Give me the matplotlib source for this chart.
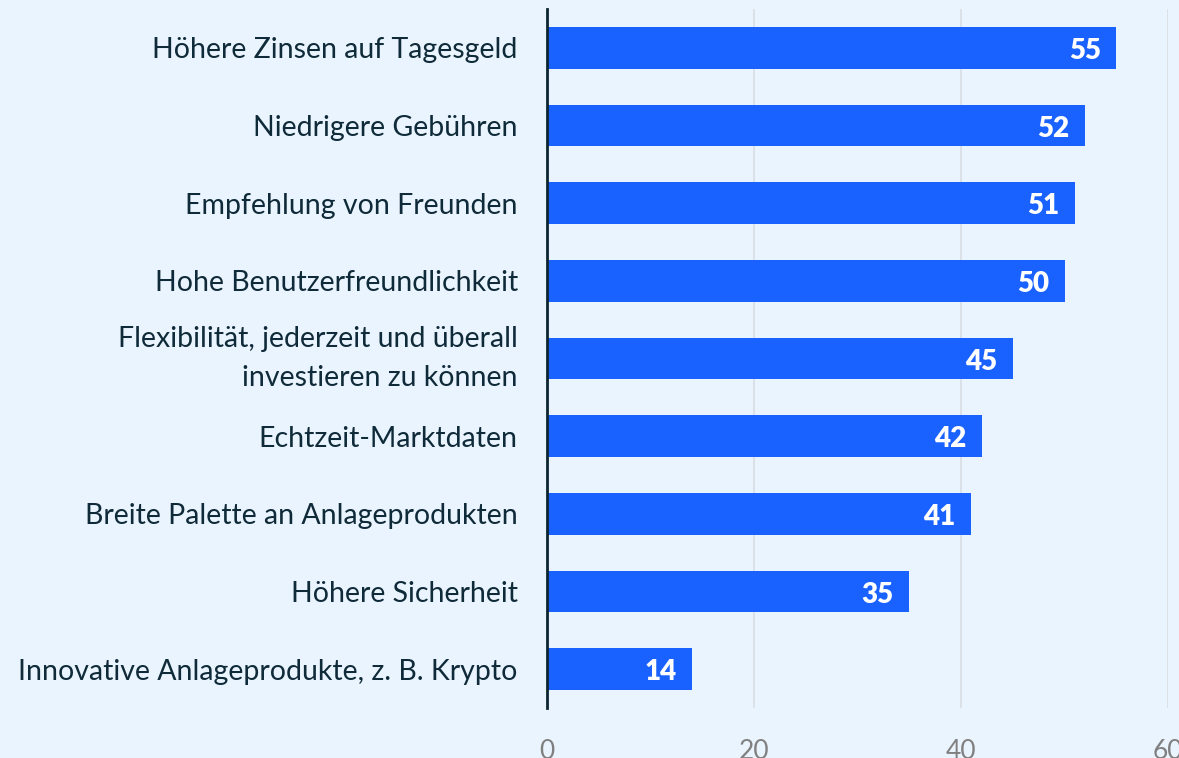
import matplotlib.pyplot as plt

# data
labels = [
    "Höhere Zinsen auf Tagesgeld",
    "Niedrigere Gebühren",
    "Empfehlung von Freunden",
    "Hohe Benutzerfreundlichkeit",
    "Flexibilität, jederzeit und überall\ninvestieren zu können",
    "Echtzeit-Marktdaten",
    "Breite Palette an Anlageprodukten",
    "Höhere Sicherheit",
    "Innovative Anlageprodukte, z. B. Krypto",
]
values = [55, 52, 51, 50, 45, 42, 41, 35, 14]
xticks = [0, 20, 40, 60]

BG = "#eaf4fe"
BAR = "#1a62ff"
TEXT = "#0f2a38"

plt.rcParams["font.family"] = ["Lato", "DejaVu Sans"]

fig = plt.figure(figsize=(11.79, 7.58), dpi=100, facecolor=BG)
ax = fig.add_axes([547 / 1179, 1 - 708 / 758, (1168 - 547) / 1179, (708 - 9) / 758])
ax.set_facecolor(BG)

ypos = list(range(len(values)))
ax.barh(ypos, values, height=0.54, color=BAR, zorder=3)

for y, v in zip(ypos, values):
    ax.text(v - 1.5, y + 0.04, str(v), ha="right", va="center",
            color="white", fontsize=20, fontweight="heavy", zorder=4)

ax.set_ylim(8.5, -0.5)
ax.set_xlim(0, 60)
ax.set_yticks(ypos)
ax.set_yticklabels(labels, fontsize=20.5, color=TEXT, linespacing=1.6)
ax.set_xticks(xticks)
ax.set_xticklabels([str(t) for t in xticks], fontsize=19, color="#808080")
ax.tick_params(axis="y", length=0, pad=21)
ax.tick_params(axis="x", length=0, pad=22)

# two-line label sits centred on its bar
for t in ax.get_yticklabels():
    if "\n" in t.get_text():
        t.set_verticalalignment("center")

ax.grid(axis="x", color="#d9dee3", linewidth=1.2, zorder=0)
for s in ["top", "right", "bottom"]:
    ax.spines[s].set_visible(False)
ax.spines["left"].set_color("#0c2530")
ax.spines["left"].set_linewidth(2)
ax.spines["left"].set_zorder(5)

fig.savefig("out.png", dpi=100, facecolor=BG)
